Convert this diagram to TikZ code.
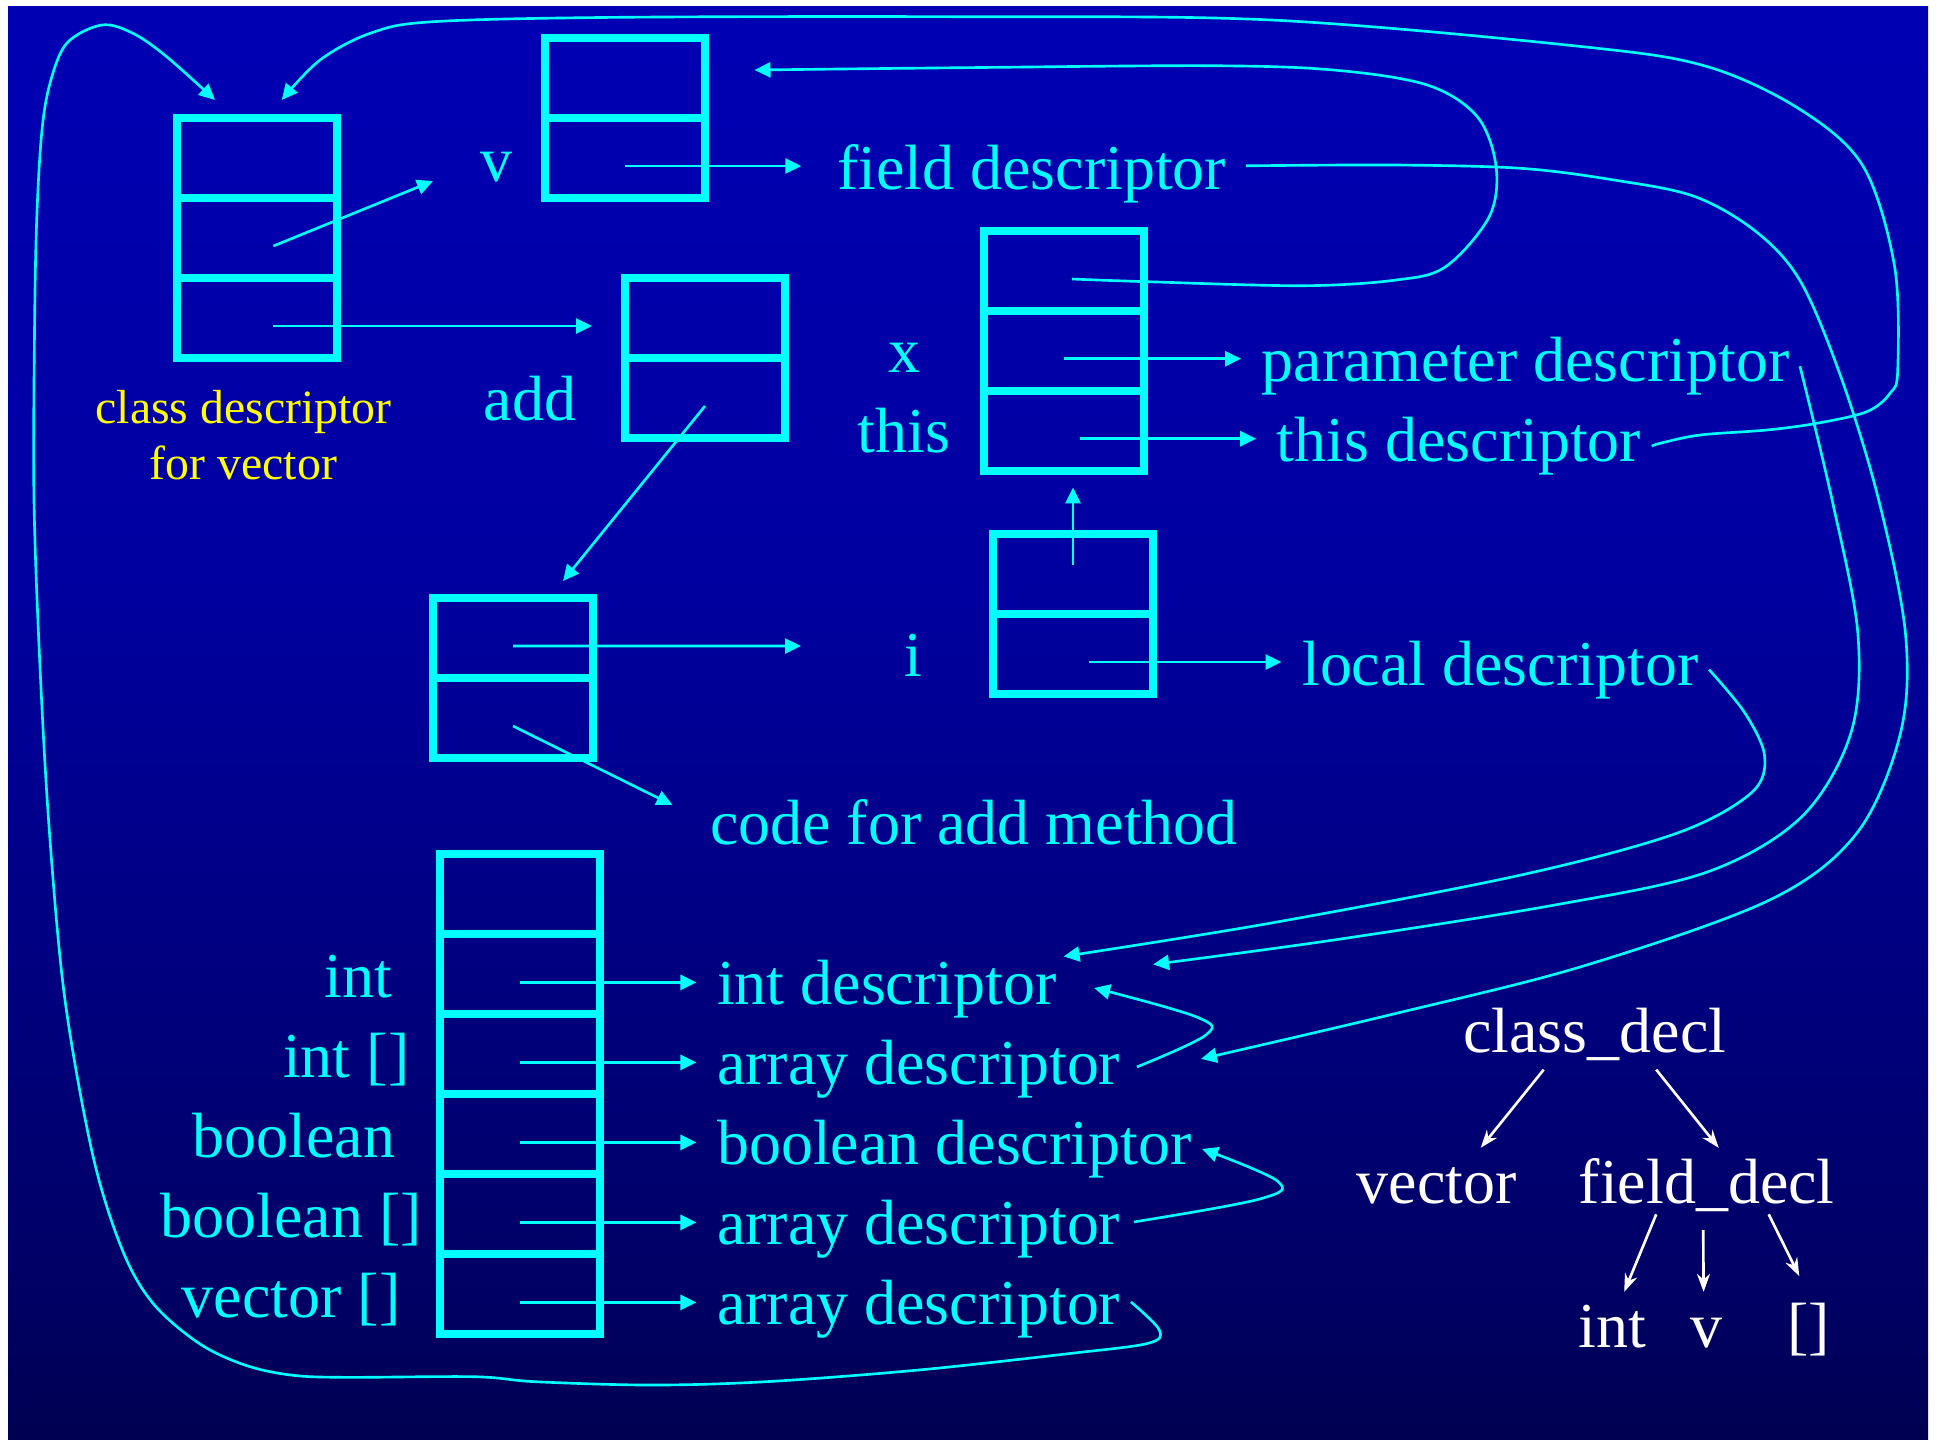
\documentclass[tikz,border=0pt]{standalone}
\usepackage{fontspec}
\setmainfont{Liberation Serif}
\usetikzlibrary{arrows.meta, positioning}
\definecolor{linecyan}{HTML}{00FFFF}
\definecolor{noteyellow}{HTML}{FFFF00}
\definecolor{bgtop}{RGB}{0,0,204}
\definecolor{bgmid}{RGB}{0,0,160}
\definecolor{bgdark}{RGB}{0,0,100}
\definecolor{bgdeep}{RGB}{0,0,45}
\definecolor{bgbot}{RGB}{0,0,5}
\pgfdeclareverticalshading{slidebg}{100bp}{color(0bp)=(bgbot); color(15bp)=(bgdeep);
  color(30bp)=(bgdark); color(55bp)=(bgmid); color(100bp)=(bgtop)}
\newcommand{\lblfont}{\fontsize{18.2pt}{22pt}\selectfont}
\newcommand{\notefont}{\fontsize{13.6pt}{15.9pt}\selectfont}

\begin{document}
\begin{tikzpicture}[x=1cm, y=-1cm,
  cell/.style={rectangle, draw=linecyan, line width=2.3pt, minimum width=1.6cm,
               minimum height=0.8cm, inner sep=0pt, outer sep=0pt},
  lbl/.style={text=linecyan, font=\lblfont, inner xsep=0.1cm, inner ysep=0pt,
              text height=0.45cm, text depth=0.14cm},
  note/.style={text=noteyellow, font=\notefont, align=center, inner sep=0pt},
  tnode/.style={text=white, font=\lblfont, inner sep=0pt, text height=0.545cm, text depth=0.16cm},
  ptr/.style={draw=linecyan, line width=0.75pt, -{Triangle[length=0.16cm, width=0.15cm]}},
  tolbl/.style={ptr, shorten >=1mm},
  tarr/.style={draw=white, line width=0.75pt, -{Stealth[length=0.18cm, width=0.13cm]}},
]
% ---- slide background ----
\useasboundingbox (0,0) rectangle (19.37,14.39);
\fill[white] (0,0) rectangle (19.37,14.39);
\shade[shading=slidebg] (0.08,0.06) rectangle (19.28,14.39);
% ---- class descriptor for vector ----
\node[cell] (cd1) at (2.57,1.58) {};
\node[cell, below=0pt of cd1] (cd2) {};
\node[cell, below=0pt of cd2] (cd3) {};
\node[note, anchor=north] (cdnote) at (2.435,3.90) {class descriptor\\for vector};
% ---- field v ----
\node[cell] (v1) at (6.25,0.78) {};
\node[cell, below=0pt of v1] (v2) {};
\node[lbl, anchor=base] (vlab) at (4.96,1.817) {v};
\node[lbl, anchor=base west] (fdesc) at (8.264,1.893) {field descriptor};
% ---- method add ----
\node[cell] (add1) at (7.05,3.18) {};
\node[cell, below=0pt of add1] (add2) {};
\node[lbl, anchor=base] (addlab) at (5.298,4.207) {add};
% ---- parameters x, this ----
\node[cell] (pm1) at (10.64,2.707) {};
\node[cell, below=0pt of pm1] (pm2) {};
\node[cell, below=0pt of pm2] (pm3) {};
\node[lbl, anchor=base] (xlab) at (9.044,3.727) {x};
\node[lbl, anchor=base] (thislab) at (9.04,4.523) {this};
\node[lbl, anchor=base west] (pdesc) at (12.511,3.817) {parameter descriptor};
\node[lbl, anchor=base west] (tdesc) at (12.662,4.617) {this descriptor};
% ---- method body ----
\node[cell] (mb1) at (5.13,6.38) {};
\node[cell, below=0pt of mb1] (mb2) {};
\node[lbl, anchor=base west] (code) at (6.995,8.44) {code for add method};
% ---- local i ----
\node[cell] (lc1) at (10.73,5.74) {};
\node[cell, below=0pt of lc1] (lc2) {};
\node[lbl, anchor=base] (ilab) at (9.13,6.767) {i};
\node[lbl, anchor=base west] (ldesc) at (12.915,6.85) {local descriptor};
% ---- type table ----
\node[cell] (ty1) at (5.20,8.944) {};
\foreach \k [remember=\k as \j (initially 1)] in {2,...,6}
  \node[cell, below=0pt of ty\j] (ty\k) {};
\foreach \k/\rx/\ly/\ry/\tname/\dname in {
    2/4.028/9.974/10.044/int/int descriptor,
    3/4.20/10.774/10.844/int []/array descriptor,
    4/4.06/11.574/11.644/boolean/boolean descriptor,
    5/4.325/12.374/12.444/boolean []/array descriptor,
    6/4.11/13.174/13.244/vector []/array descriptor} {
  \node[lbl, anchor=base east] (tl\k) at (\rx,\ly) {\tname};
  \node[lbl, anchor=base west] (td\k) at (7.064,\ry) {\dname};
  \coordinate (tyo\k) at ([yshift=-0.8mm]ty\k.center);
  \draw[tolbl] (tyo\k) -- (tyo\k -| td\k.west);
}
% ---- syntax tree ----
\node[tnode, anchor=base] (cdecl) at (15.947,10.529) {class\_decl};
\node[tnode, anchor=base] (tvec) at (14.367,12.03) {vector};
\node[tnode, anchor=base] (fdecl) at (17.067,12.03) {field\_decl};
\node[tnode, anchor=base] (tint) at (16.127,13.47) {int};
\node[tnode, anchor=base] (tv) at (17.066,13.47) {v};
\node[tnode, anchor=base] (tbr) at (18.083,13.47) {[]};
\draw[tarr] ([xshift=-0.51cm]cdecl.south) -- ([xshift=0.44cm]tvec.north);
\draw[tarr] ([xshift=0.615cm]cdecl.south) -- ([xshift=0.12cm]fdecl.north);
\draw[tarr] ([shift={(-0.505,-0.054)}]fdecl.south) -- ([xshift=0.115cm]tint.north);
\draw[tarr] ([shift={(-0.035,0.104)}]fdecl.south) -- ([xshift=-0.03cm]tv.north);
\draw[tarr] ([shift={(0.62,-0.054)}]fdecl.south) -- ([shift={(-0.09,-0.157)}]tbr.north);
% ---- pointer origins and free ends ----
\coordinate (cdo2) at ([shift={(0.164,0.08)}]cd2.center);
\coordinate (cdo3) at ([shift={(0.164,0.08)}]cd3.center);
\coordinate (vo2) at ([yshift=-0.8mm]v2.center);
\coordinate (pmo1) at ([shift={(0.08,0.083)}]pm1.center);
\coordinate (pmo2) at ([yshift=-0.8mm]pm2.center);
\coordinate (pmo3) at ([shift={(0.16,0.08)}]pm3.center);
\coordinate (lco1) at ([yshift=0.9mm]lc1.center);
\coordinate (lco2) at ([shift={(0.16,0.08)}]lc2.center);
\coordinate (addo2) at ([yshift=-0.8mm]add2.center);
\coordinate (mbo1) at ([yshift=-0.8mm]mb1.center);
\coordinate (mbo2) at ([yshift=-0.8mm]mb2.center);
\coordinate (vtip) at (4.33,1.81);
\coordinate (itip) at (8.01,6.46);
\coordinate (mbtip) at ([shift={(0.5,-0.17)}]mb1.north);
\coordinate (codetip) at ([shift={(-0.27,-0.235)}]code.west);
\coordinate (cdinL) at ([shift={(-0.42,-0.18)}]cd1.north);
\coordinate (cdinR) at ([shift={(0.247,-0.18)}]cd1.north);
\coordinate (vin) at ([shift={(0.495,-0.08)}]v1.east);
\coordinate (fdout) at ([shift={(0.09,-0.08)}]fdesc.east);
\coordinate (td3in) at ([shift={(0.70,-0.10)}]td3.east);
\coordinate (td3out) at ([shift={(0.06,-0.02)}]td3.east);
\coordinate (td5out) at ([shift={(0.03,-0.07)}]td5.east);
\coordinate (td6out) at ([shift={(0.0,-0.07)}]td6.east);
\coordinate (td2pin) at ([shift={(0.86,-0.245)}]td2.east);
\coordinate (td2lin) at ([shift={(-0.035,-0.325)}]td2.east);
\coordinate (td2ain) at ([shift={(0.27,-0.01)}]td2.east);
% ---- straight pointers ----
\draw[ptr] (cdo2) -- (vtip);
\draw[ptr, shorten >=3.3mm] (cdo3) -- (cdo3 -| add1.west);
\draw[ptr, shorten >=2.5mm] (vo2) -- (vo2 -| fdesc.west);
\draw[tolbl] (pmo2) -- (pmo2 -| pdesc.west);
\draw[tolbl] (pmo3) -- (pmo3 -| tdesc.west);
\draw[ptr, shorten >=1.67mm] (lco1) -- (lco1 |- pm3.south);
\draw[tolbl] (lco2) -- (lco2 -| ldesc.west);
\draw[ptr] (addo2) -- (mbtip);
\draw[ptr] (mbo1) -- (itip);
\draw[ptr] (mbo2) -- (codetip);
% ---- descriptor back-links ----
\draw[ptr] plot[smooth, tension=0.55] coordinates {(tdesc.east) (16.60,4.433) (17.00,4.35)
  (17.667,4.30) (18.167,4.233) (18.667,4.117) (18.90,3.933) (18.977,3.70) (18.946,2.667)
  (18.634,1.667) (18.01,1.10) (17.076,0.667) (15.83,0.467) (12.715,0.20) (9.60,0.167)
  (6.19,0.173) (4.33,0.217) (3.71,0.33) (3.20,0.60) (cdinR)};
\draw[ptr] plot[smooth, tension=0.55] coordinates {(pmo1) (11.473,2.817) (13.029,2.857)
  (13.96,2.80) (14.456,2.667) (14.892,2.167) (14.961,1.667) (14.773,1.167) (14.273,0.85)
  (13.336,0.70) (12.092,0.657) (9.60,0.677) (vin)};
\draw[ptr] plot[smooth, tension=0.55] coordinates {(fdout) (13.96,1.65) (15.209,1.683)
  (16.141,1.80) (16.953,1.967) (17.578,2.33) (18.014,2.83) (18.42,3.80) (18.787,5.00)
  (19.054,6.33) (19.005,7.33) (18.569,8.33) (17.696,9.00) (15.833,9.66) (13.96,10.134) (td3in)};
\draw[ptr] plot[smooth, tension=0.55] coordinates {(pdesc.east) (18.321,5.00) (18.578,6.33)
  (18.509,7.33) (18.014,8.17) (17.072,8.72) (15.546,9.05) (13.336,9.40) (td2pin)};
\draw[ptr] plot[smooth, tension=0.55] coordinates {(ldesc.east) (17.449,7.13) (17.647,7.567)
  (17.508,7.933) (16.765,8.333) (15.209,8.75) (12.712,9.23) (td2lin)};
\draw[ptr] plot[smooth, tension=0.6] coordinates {(td3out) (12.058,10.35) (11.968,10.17) (td2ain)};
\draw[ptr] plot[smooth, tension=0.6] coordinates {(td5out) (12.596,11.99) (12.777,11.812) (td4.east)};
\draw[ptr] plot[smooth, tension=0.55] coordinates {(td6out) (11.594,13.30) (11.48,13.433)
  (10.714,13.533) (9.184,13.70) (7.653,13.817) (6.505,13.85) (5.357,13.817) (4.745,13.767)
  (3.444,13.773) (2.908,13.75) (2.449,13.65) (1.99,13.433) (1.53,13.033) (1.224,12.50)
  (0.93,11.56) (0.65,10.00) (0.495,8.33) (0.40,6.67) (0.34,5.00) (0.345,3.33) (0.367,2.20)
  (0.417,1.33) (0.50,0.833) (0.667,0.433) (1.017,0.25) (1.33,0.333) (1.667,0.567) (cdinL)};
\end{tikzpicture}
\end{document}
